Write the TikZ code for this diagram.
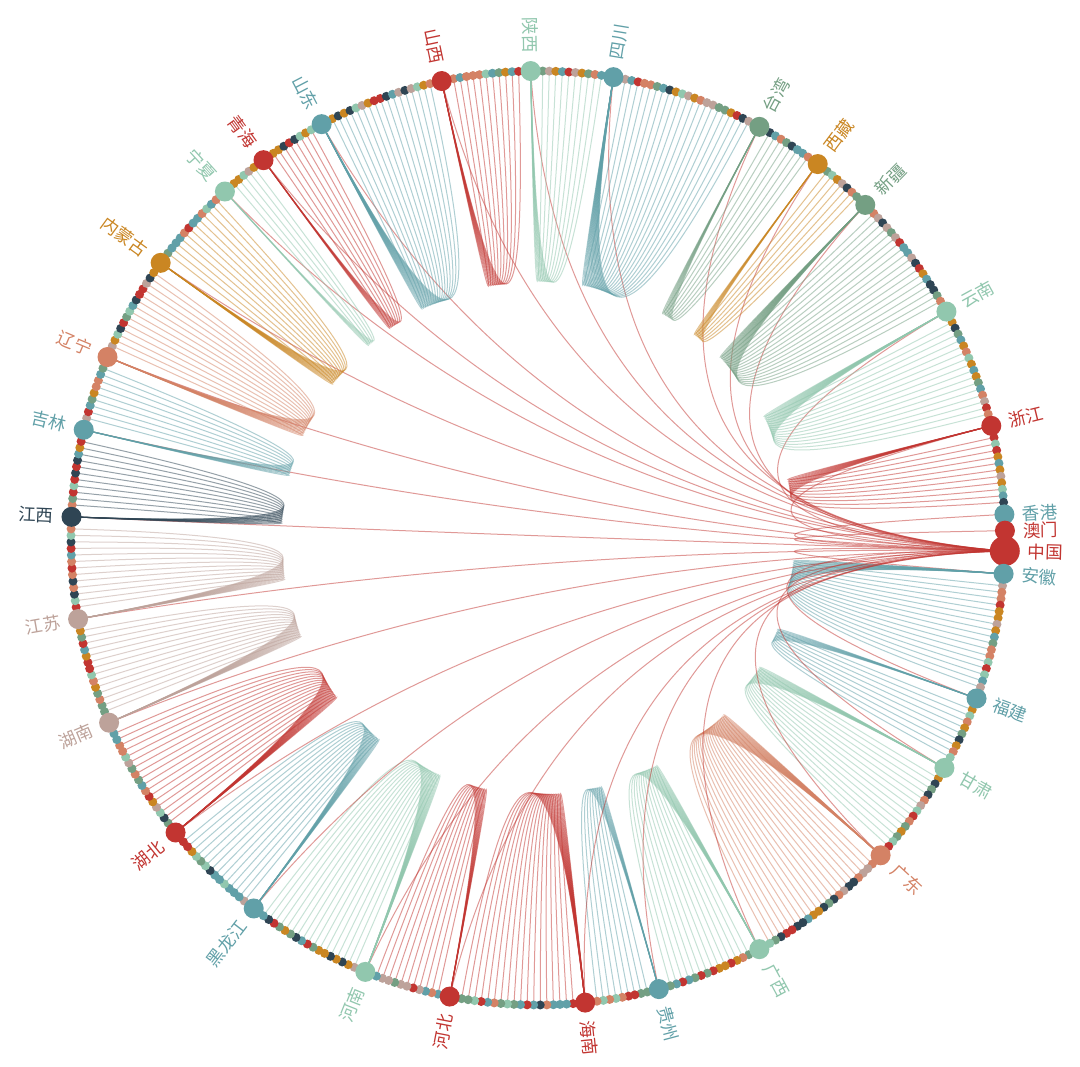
\documentclass[tikz,border=0pt]{standalone}
\usepackage{fontspec}
\newfontfamily\cjkfont{Noto Sans CJK SC}
\usetikzlibrary{calc}
\definecolor{myred}{RGB}{194,53,49}
\definecolor{mydark}{RGB}{47,69,84}
\definecolor{myteal}{RGB}{97,160,168}
\definecolor{mysalmon}{RGB}{212,130,101}
\definecolor{mylight}{RGB}{145,199,174}
\definecolor{mygreen}{RGB}{116,159,131}
\definecolor{mygold}{RGB}{202,134,34}
\definecolor{mytan}{RGB}{189,162,154}
\pgfdeclarelayer{bg}
\pgfdeclarelayer{links}
\pgfsetlayers{bg,links,main}
\pgfmathdeclarerandomlist{dotcolors}{{myred}{mydark}{myteal}{mysalmon}{mylight}{mygreen}{mygold}{mytan}}
\newcommand{\provlist}{
    1/安徽/4.4/20.1/17/myteal, 2/福建/20.1/29.5/9/myteal, 3/甘肃/29.5/42.8/14/mylight,
    4/广东/42.8/61.7/21/mysalmon, 5/广西/61.7/75.0/14/mylight, 6/贵州/75.0/84.2/9/myteal,
    7/海南/84.2/100.9/18/myred, 8/河北/100.9/111.7/11/myred, 9/河南/111.7/127.5/17/mylight,
    10/黑龙江/127.5/140.9/14/myteal, 11/湖北/140.9/156.7/17/myred, 12/湖南/156.7/170.0/14/mytan,
    13/江苏/170.0/182.6/13/mytan, 14/江西/182.6/193.4/11/mydark, 15/吉林/193.4/202.8/9/myteal,
    16/辽宁/202.8/216.1/14/mysalmon, 17/内蒙古/216.1/227.9/12/mygold, 18/宁夏/227.9/234.0/5/mylight,
    19/青海/234.0/242.4/8/myred, 20/山东/242.4/258.1/17/myteal, 21/山西/258.1/269.1/11/myred,
    22/陕西/269.1/279.3/10/mylight, 23/四川/279.3/298.3/21/myteal, 24/台湾/298.3/306.8/8/mygreen,
    25/西藏/306.8/314.5/7/mygold, 26/新疆/314.5/331.0/18/mygreen, 27/云南/331.0/346.1/16/mylight,
    28/浙江/346.1/357.1/11/myred, 29/香港/357.1/359.1/0/myteal, 30/澳门/359.1/361.6/0/myred}
\tikzset{
  city/.style={circle, inner sep=0pt, minimum size=9pt, fill=#1},
  province/.style={circle, inner sep=0pt, minimum size=20pt, fill=#1},
  rootdot/.style={circle, inner sep=0pt, minimum size=30pt, fill=#1},
  linkline/.style={draw=#1, line width=1pt, draw opacity=0.5},
  plabel/.style={font=\cjkfont\fontsize{17.5}{18}\selectfont, text=#1, inner sep=0pt}
}

\begin{document}
\begin{tikzpicture}[x=1pt, y=1pt]
  \begin{pgfonlayer}{bg}
    \fill[white] (-538,-529) rectangle (542,538);
  \end{pgfonlayer}
  \useasboundingbox (-538,-529) rectangle (542,538);
  \pgfmathsetseed{11}
  \node[rootdot=myred] (zg) at (-1.6:467) {};
  \node[plabel=myred, anchor=west, rotate=-1.6] (zg-label) at (-1.6:490) {中国};
  \foreach \i/\name/\a/\b/\n/\col in \provlist{
    \ifnum\n>0
      \pgfmathsetmacro\s{(\b-\a-1.35)/(\n+1)}
      \foreach \j in {1,...,\n}{
        \pgfmathsetmacro\ca{\a+0.675+\j*\s}
        \pgfmathrandomitem{\cc}{dotcolors}
        \node[city=\cc] (c\i-\j) at (-\ca:467) {};
      }
    \fi
    \node[province=\col] (p\i) at (-\a:467) {};
    \pgfmathtruncatemacro\isright{cos(\a)>0}
    \ifnum\isright=1
      \node[plabel=\col, anchor=west, rotate=-\a] (p\i-label) at (-\a:485) {\name};
    \else
      \pgfmathsetmacro\rot{180-\a}
      \node[plabel=\col, anchor=east, rotate=\rot] (p\i-label) at (-\a:485) {\name};
    \fi
  }
  \begin{pgfonlayer}{links}
    \foreach \i/\name/\a/\b/\n/\col in \provlist{
      \coordinate (q) at ($0.05*(zg.center)+0.05*(p\i.center)$);
      \draw[linkline=myred] (zg.center) .. controls ($(zg.center)!2/3!(q)$) and ($(p\i.center)!2/3!(q)$) .. (p\i.center);
      \ifnum\n>0
        \foreach \j in {1,...,\n}{
          \coordinate (q) at ($0.05*(p\i.center)+0.05*(c\i-\j.center)$);
          \draw[linkline=\col] (p\i.center) .. controls ($(p\i.center)!2/3!(q)$) and ($(c\i-\j.center)!2/3!(q)$) .. (c\i-\j.center);
        }
      \fi
    }
  \end{pgfonlayer}
\end{tikzpicture}
\end{document}
